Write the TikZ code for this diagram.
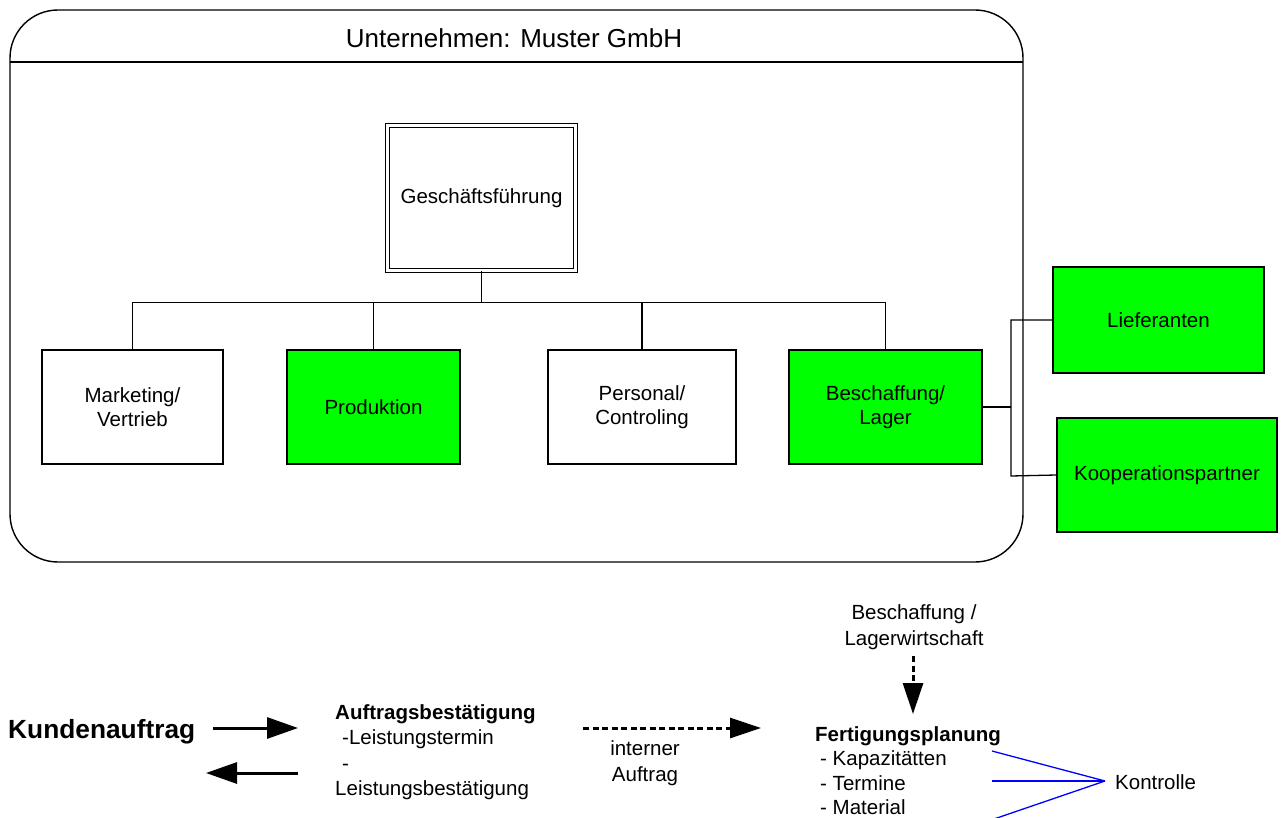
\documentclass[tikz,border=0pt]{standalone}
\usepackage{fontspec}
\setmainfont{Liberation Sans}
\usetikzlibrary{arrows.meta}

\definecolor{boxgreen}{RGB}{0,255,0}
\definecolor{ctrlblue}{RGB}{0,0,255}

\tikzset{
  unit/.style={draw=black, line width=1.3pt, inner sep=2pt, align=center,
               font=\fontsize{20.5}{24.5}\selectfont},
  plain/.style={unit, fill=white},
  green/.style={unit, fill=boxgreen},
  link/.style={draw=black, line width=1.3pt},
  txt/.style={inner sep=0pt, font=\fontsize{20.5}{25.5}\selectfont},
  bigarrow/.style={line width=3pt, -{Triangle[length=31pt,width=21pt]}},
  dasharrow/.style={line width=3pt, dash pattern=on 6pt off 3.5pt,
                    -{Triangle[length=31pt,width=20pt]}},
  ctrl/.style={draw=ctrlblue, line width=1.3pt}
}

\begin{document}
\begin{tikzpicture}[x=1pt,y=-1pt]
\useasboundingbox (0,0) rectangle (1282,818);

% company frame with title bar
\draw[line width=1.4pt, rounded corners=48pt] (10,10) rectangle (1023,562);
\draw[line width=1.4pt] (10,62) -- (1023,62);
\node[txt, font=\fontsize{26}{30}\selectfont] (title) at (514,38) {Unternehmen: Muster GmbH};

% management
\node[plain, double, double distance=2.6pt, line width=1.1pt,
      minimum width=188pt, minimum height=145pt] (gf) at (481.5,198) {Gesch\"aftsf\"uhrung};

% departments
\node[plain, minimum width=181pt, minimum height=114pt] (mkt)  at (132.5,407) {Marketing/\\Vertrieb};
\node[green, minimum width=173pt, minimum height=114pt] (prod) at (373.5,407) {Produktion};
\node[plain, minimum width=188pt, minimum height=114pt] (pers) at (642,407)   {Personal/\\Controling};
\node[green, minimum width=193pt, minimum height=114pt] (besch) at (885.5,407) {Beschaffung/\\Lager};

% external partners
\node[green, minimum width=211pt, minimum height=106pt] (lief) at (1158.5,320) {Lieferanten};
\node[green, minimum width=220pt, minimum height=114pt] (koop) at (1167,475)   {Kooperationspartner};

% organisation tree
\coordinate (bus) at (480,302.5);
\draw[link] (gf.south) -- (gf.south |- bus);
\draw[link] (mkt.north |- bus) -- (besch.north |- bus);
\foreach \d in {mkt,prod,pers,besch} \draw[link] (\d.north) -- (\d.north |- bus);

% supplier branch
\coordinate (jt) at (1011,320);
\coordinate (jb) at (1011,476);
\draw[link] (besch.east) -- (besch.east -| jt);
\draw[link] (lief.west) -- (jt) -- (jb) -- (koop.west);

% order flow
\node[txt, anchor=west, font=\bfseries\fontsize{26.3}{30}\selectfont] (kunde) at (8,732) {Kundenauftrag};

\node[txt, anchor=north west, align=left] (auftrag) at (335,704)
  {\textbf{Auftragsbest\"atigung}\\
   \hspace*{7pt}-Leistungstermin\\
   \hspace*{7pt}-\\
   Leistungsbest\"atigung};

\coordinate (r0) at (213,728);
\coordinate (r1) at (298,728);
\coordinate (l0) at (298,773);
\coordinate (l1) at (206,773);
\draw[bigarrow] (r0) -- (r1);
\draw[bigarrow] (l0) -- (l1);

\coordinate (i0) at (583,728);
\coordinate (i1) at (761,728);
\draw[dasharrow] (i0) -- (i1);
\node[txt, align=center] (intern) at (645,763) {interner\\Auftrag};

\node[txt, align=center] (lager) at (914,627) {Beschaffung /\\Lagerwirtschaft};
\coordinate (v0) at (913,656);
\draw[dasharrow] (v0) -- ++(0,58);

\node[txt, anchor=north west, align=left, font=\fontsize{20.5}{24.5}\selectfont] (fert) at (815,726)
  {\textbf{Fertigungsplanung}\\
   \hspace*{5pt}- Kapazit\"atten\\
   \hspace*{5pt}- Termine\\
   \hspace*{5pt}- Material};

% control lines
\node[txt, anchor=west] (kontr) at (1115,782) {Kontrolle};
\coordinate (k) at (1105,781);
\coordinate (c1) at (992,751);
\coordinate (c2) at (992,781);
\coordinate (c3) at (994,819);
\draw[ctrl] (c1) -- (k);
\draw[ctrl] (c2) -- (k);
\draw[ctrl] (c3) -- (k);
\end{tikzpicture}
\end{document}
